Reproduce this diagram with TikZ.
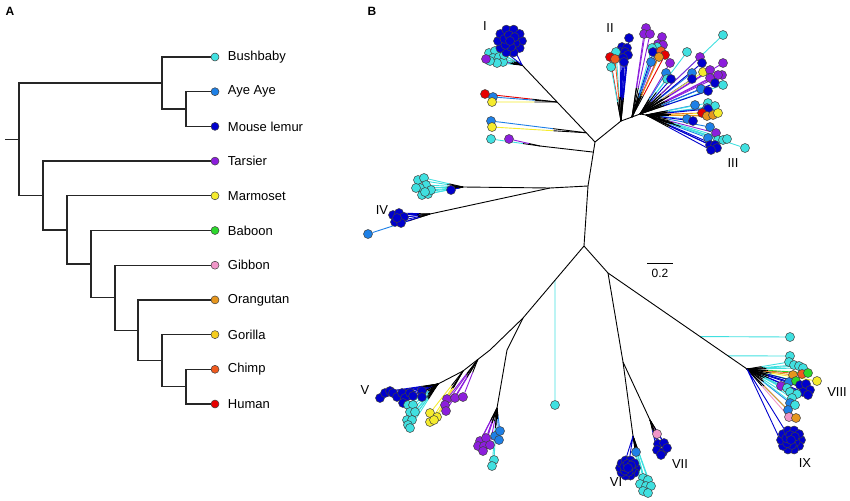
\documentclass[tikz,border=0pt]{standalone}
\usepackage{fontspec}
\setmainfont{Liberation Sans}
\usepackage{tikz}
\usetikzlibrary{backgrounds,calc,positioning}
\definecolor{cB}{RGB}{64,224,224}
\definecolor{cA}{RGB}{30,128,230}
\definecolor{cL}{RGB}{0,0,205}
\definecolor{cT}{RGB}{140,30,220}
\definecolor{cM}{RGB}{245,235,45}
\definecolor{cBa}{RGB}{45,215,45}
\definecolor{cG}{RGB}{240,150,200}
\definecolor{cO}{RGB}{230,150,30}
\definecolor{cGo}{RGB}{245,205,30}
\definecolor{cC}{RGB}{240,90,30}
\definecolor{cH}{RGB}{230,0,0}
\tikzset{
  leaf/.style={circle,draw=black!75,line width=0.5pt,inner sep=0pt,minimum size=9pt,fill=#1},
  clade/.style={line width=1.3pt,black!85},
  br/.style={line width=0.9pt},
  taxon/.style={font=\fontsize{13}{15}\selectfont,inner sep=0pt,anchor=west},
  grp/.style={font=\fontsize{13}{15}\selectfont,inner sep=0pt},
  panel/.style={font=\fontsize{12}{14}\selectfont\bfseries,inner sep=0pt},
}
% base, prefix, list of x/y/colour
\newcommand\fan[3]{%
  \foreach \px/\py/\pc [count=\k] in {#3} {%
    \node[leaf=\pc] (#2-\k) at (\px,\py) {};
    \begin{pgfonlayer}{background}
      \draw[br] (#1) -- ($(#1)!0.35!(#2-\k)$);
      \draw[br,\pc] ($(#1)!0.35!(#2-\k)$) -- (#2-\k);
    \end{pgfonlayer}
  }}
% base, prefix, centre, colour, outer radius, inner radius
\newcommand\blob[6]{%
  \foreach \a [count=\k] in {0,36,...,324}
    \node[leaf=#4] (#2-o\k) at ($#3+(\a:#5)$) {};
  \foreach \a [count=\k] in {20,80,...,320}
    \node[leaf=#4] (#2-i\k) at ($#3+(\a:#6)$) {};
  \node[leaf=#4] (#2-c) at #3 {};
  \begin{pgfonlayer}{background}\draw[br,#4] (#1) -- (#2-o5) (#1) -- (#2-c);\end{pgfonlayer}}

\begin{document}
\begin{tikzpicture}[x=1pt,y=-1pt]
\useasboundingbox (0,0) rectangle (850,500);

\node[panel] (pA) at (10,11) {A};
\node[panel] (pB) at (372,11) {B};

\foreach \t/\cl [count=\i] in {Bushbaby/cB,Aye Aye/cA,Mouse lemur/cL,Tarsier/cT,Marmoset/cM,Baboon/cBa,Gibbon/cG,Orangutan/cO,Gorilla/cGo,Chimp/cC,Human/cH}{
  \node[leaf=\cl,minimum size=8pt] (a\i) at (215,{57+34.7*(\i-1)}) {};
  \node[taxon,right=8.5pt of a\i] (l\i) {\t};
}
\coordinate (nAM) at (186,109);
\coordinate (nSt) at (162,83);
\coordinate (nCH) at (186,386.7);
\coordinate (nAf) at (162,360.6);
\coordinate (nGA) at (138,330.3);
\coordinate (nHo) at (115,297.7);
\coordinate (nCa) at (91,264.1);
\coordinate (nAn) at (67,230);
\coordinate (nHa) at (43,195.5);
\coordinate (nR) at (19,139.3);
\coordinate (root) at (5,139.3);
\begin{pgfonlayer}{background}
\foreach \l/\n/\r in {nSt/nR/nHa,a1/nSt/nAM,a2/nAM/a3,a4/nHa/nAn,a5/nAn/nCa,a6/nCa/nHo,a7/nHo/nGA,a8/nGA/nAf,a9/nAf/nCH,a10/nCH/a11}
  \draw[clade] (\l) -| (\n) |- (\r);
\draw[clade] (root) -- (nR);
\end{pgfonlayer}

\coordinate (t) at (595,142);
\coordinate (c) at (588,186);
\coordinate (f) at (584,246);
\coordinate (bI) at (522,65);
\coordinate (j1) at ($(t)!0.52!(bI)$);
\coordinate (j2) at ($(t)!0.12!(bI)$);
\coordinate (j3) at ($(t)!0.23!(c)$);
\coordinate (s3) at (540,146);
\coordinate (k) at (550,188);
\coordinate (bT) at (463,187);
\coordinate (s4) at (430,214);
\coordinate (r1) at (621,121);
\coordinate (bP) at (632,117);
\coordinate (bM) at (640,114);
\coordinate (b3) at (646,115);
\coordinate (m) at (523,318);
\coordinate (cb) at ($(f)!0.475!(m)$);
\coordinate (v1) at (490,350);
\coordinate (v2) at (463,371);
\coordinate (vb) at (438,384);
\coordinate (pv) at ($(v1)!0.45!(v2)$);
\coordinate (p1) at (507,350);
\coordinate (p2) at (497,408);
\coordinate (g) at (608,273);
\coordinate (q) at (623,362);
\coordinate (s6) at (633,436);
\coordinate (s7) at (650,420);
\coordinate (e) at (747,369);
\coordinate (c1) at ($(g)!0.662!(e)$);
\coordinate (c2) at ($(g)!0.863!(e)$);

\draw[br] (bI) -- (t) -- (c) -- (f) -- (m) -- (v1) -- (v2) -- (vb);
\draw[br] (t) -- (r1) -- (bP) -- (bM) -- (b3);
\draw[br] (c) -- (k) -- (bT);
\draw[br] (k) -- (s4);
\draw[br] (j3) -- (s3);
\draw[br] (m) -- (p1) -- (p2);
\draw[br] (f) -- (g) -- (e);
\draw[br] (g) -- (q) -- (s6);
\draw[br] (q) -- (s7);

\fan{bI}{Ic}{489/53/cB,495/51/cB,493/58/cB,499/57/cB,503/62/cB,497/63/cB,490/61/cB,504/55/cB,486/59/cT}
\blob{bI}{I}{(510,41)}{cL}{12}{6}
\fan{j1}{J1}{485/94/cH,493/97/cA,492/102/cM}
\fan{j2}{J2}{491/121/cA,492/127/cM}
\fan{s3}{J3}{491/139/cB,509/139/cT}
\fan{bT}{T}{418/180/cB,424/178/cB,426/185/cB,420/188/cB,416/188/cB,422/195/cB,428/194/cB,431/190/cB,425/192/cB,451/190/cL}
\fan{s4}{IV}{368/234/cA,393/215/cL,399/213/cL,404/217/cL,395/222/cL,401/223/cL,397/218/cL}
\fan{r1}{II}{629/38/cL,622/47/cL,627/48/cL,620/52/cL,625/52/cL,628/55/cL,623/58/cL,616/52/cB,610/57/cH,615/59/cC,611/67/cB,624/62/cL}
\fan{bP}{P}{646/28/cT,644/34/cT,650/34/cT,662/37/cT,658/44/cT,663/45/cT,657/47/cB,652/48/cB,653/52/cL,661/51/cC,665/55/cH,659/57/cO,651/62/cA}
\fan{bM}{M}{670/63/cT,666/73/cA,667/79/cB,671/79/cL,687/52/cB,723/35/cB,692/73/cA,692/79/cL,700/57/cT,702/63/cL,703/72/cM,710/70/cT,723/63/cT,722/75/cT,718/75/cT,710/78/cT,715/83/cL,723/85/cB,701/89/cA,708/91/cL}
\fan{b3}{III}{695/105/cA,708/103/cB,715/106/cB,707/108/cA,708/109/cL,702/113/cH,707/116/cO,713/115/cO,718/113/cM,687/119/cA,693/121/cL,710/127/cA,716/133/cT,708/138/cA,718/140/cB,723/140/cB,727/139/cB,745/148/cB,710/145/cL,715/145/cL,717/148/cL,711/150/cL}
\fan{vb}{V}{380/398/cL,385/393/cL,390/391/cL,393/393/cL,397/397/cL,402/393/cL,405/398/cL,410/393/cL,413/396/cL,422/391/cL,422/397/cL,403/403/cL,408/405/cB,413/405/cB,410/412/cB,415/412/cB,407/420/cB,412/420/cB,408/425/cB,410/428/cB}
\fan{v2}{Vy}{430/413/cM,437/417/cM,430/422/cM,434/420/cM}
\fan{pv}{Vp}{447/399/cT,455/398/cT,463/397/cT,445/405/cT,446/411/cT}
\fan{p2}{Pp}{480/441/cT,486/438/cT,478/446/cT,484/446/cT,490/445/cT,483/451/cT,495/436/cA,500/431/cA,499/440/cA,494/460/cB,492/466/cB}
\node[leaf=cB] (L1) at (555,405) {};
\node[leaf=cB] (H1) at (790,337) {};
\node[leaf=cB] (H2) at (790,356) {};
\begin{pgfonlayer}{background}
\draw[br,cB] (cb) -- (L1);
\draw[br,cB] (c1) -- (H1);
\draw[br,cB] (c2) -- (H2);
\end{pgfonlayer}
\fan{s6}{VI}{636/452/cA,643/478/cB,648/480/cB,640/484/cB,646/486/cB,651/486/cB,643/491/cB,648/493/cB}
\blob{s6}{VIb}{(628,468)}{cL}{8}{4}
\fan{s7}{VII}{657/434/cG,658/444/cL,664/443/cL,657/450/cL,663/452/cL,667/448/cL,661/455/cL}
\fan{e}{VIII}{789/362/cB,794/365/cB,799/366/cB,803/368/cB,793/375/cO,802/374/cC,808/373/cBa,817/381/cM,789/382/cA,796/381/cBa,800/385/cL,806/384/cL,810/390/cL,803/392/cL,808/395/cL,781/386/cT,787/388/cB,790/392/cB,797/394/cB,792/398/cB,790/403/cA,795/405/cB,788/410/cA,789/417/cG,796/418/cO}
\blob{e}{IX}{(791,440)}{cL}{10}{5}

\node[grp] (lI) at (485,26) {I};
\node[grp] (lII) at (610,28) {II};
\node[grp] (lIII) at (733,163) {III};
\node[grp] (lIV) at (382,210) {IV};
\node[grp] (lV) at (365,390) {V};
\node[grp] (lVI) at (616,482) {VI};
\node[grp] (lVII) at (680,464) {VII};
\node[grp] (lVIII) at (837,392) {VIII};
\node[grp] (lIX) at (805,463) {IX};

\coordinate (sbl) at (647,263);
\coordinate (sbr) at (673,263);
\draw[br] (sbl) -- (sbr);
\node[font=\fontsize{12}{14}\selectfont,inner sep=0pt] (sb) at (660,273) {0.2};
\end{tikzpicture}
\end{document}
